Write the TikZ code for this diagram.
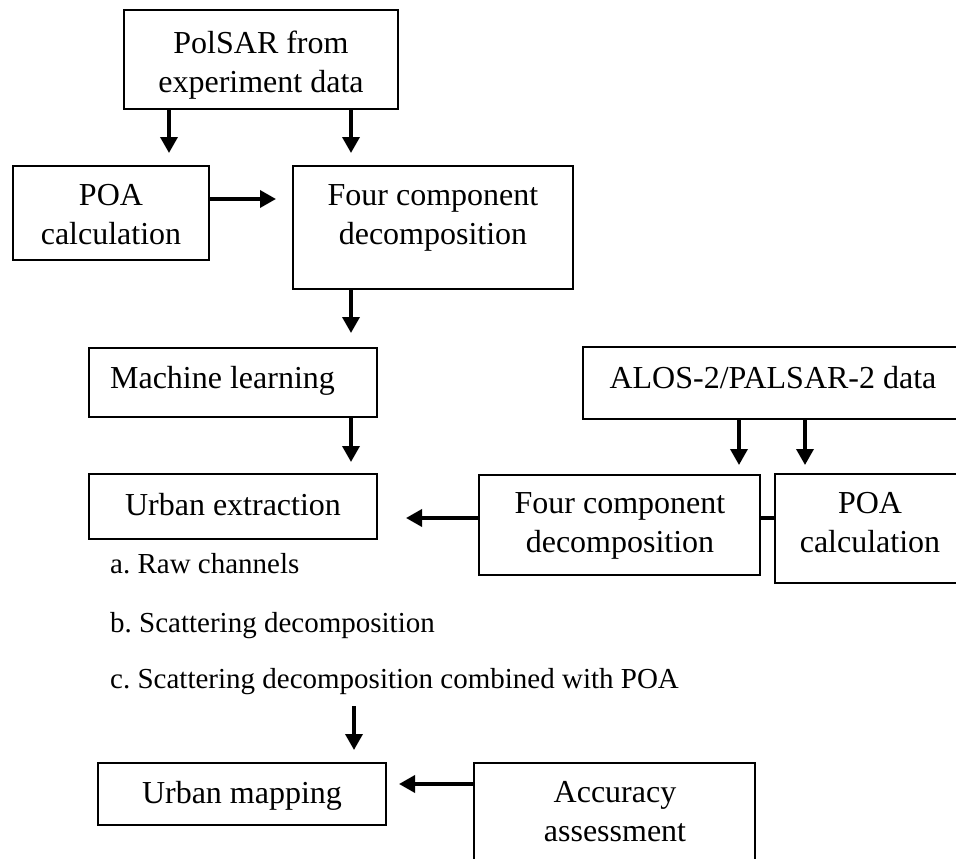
\documentclass[tikz,border=0pt]{standalone}
\usepackage{fontspec}
\setmainfont{Liberation Serif}
\usetikzlibrary{arrows.meta}
\begin{document}
\frenchspacing
\begin{tikzpicture}[x=1pt,y=-1pt,
  box/.style={draw, line width=2pt, inner sep=0pt},
  txt/.style={inner sep=0pt, font=\fontsize{32}{39}\selectfont, align=center},
  lst/.style={inner sep=0pt, font=\fontsize{29}{35}\selectfont, anchor=base west},
  arr/.style={line width=3.5pt, -{Triangle[length=16pt,width=17pt]}},
  link/.style={line width=3.5pt}]
\useasboundingbox (0,0) rectangle (956,859);
\fill[white] (0,0) rectangle (956,859);
\clip (0,0) rectangle (956,859);

% boxes
\node[box, minimum width=274pt, minimum height=99pt] (polsar) at (261,59.5) {};
\node[box, minimum width=196pt, minimum height=94pt] (poa1) at (111,213) {};
\node[box, minimum width=280pt, minimum height=123pt] (four1) at (433,227.5) {};
\node[box, minimum width=288pt, minimum height=69pt] (ml) at (233,382.5) {};
\node[box, minimum width=380pt, minimum height=72pt] (alos) at (773,383) {};
\node[box, minimum width=288pt, minimum height=65pt] (ue) at (233,506.5) {};
\node[box, minimum width=281pt, minimum height=100pt] (four2) at (619.5,525) {};
\node[box, minimum width=191pt, minimum height=109pt] (poa2) at (870.5,528.5) {};
\node[box, minimum width=288pt, minimum height=62pt] (um) at (242,794) {};
\node[box, minimum width=281pt, minimum height=137pt] (acc) at (614.5,831.5) {};

% texts
\node[txt, anchor=north] (polsart) at (261,31) {PolSAR from\\experiment data};
\node[txt, anchor=north] (poa1t) at (111,184) {POA\\calculation};
\node[txt, anchor=north] (four1t) at (433,184) {Four component\\decomposition};
\node[txt, anchor=base] (mlt) at (222.5,388) {Machine learning};
\node[txt, anchor=base] (alost) at (773,388) {ALOS-2/PALSAR-2 data};
\node[txt, anchor=base] (uet) at (233,515) {Urban extraction};
\node[txt, anchor=north] (four2t) at (620,492) {Four component\\decomposition};
\node[txt, anchor=north] (poa2t) at (870,492) {POA\\calculation};
\node[txt, anchor=base] (umt) at (242,803) {Urban mapping};
\node[txt, anchor=north] (acct) at (615,781) {Accuracy\\assessment};
\node[lst] (la) at (110,573) {a.\ Raw channels};
\node[lst] (lb) at (110,632) {b.\ Scattering decomposition};
\node[lst] (lc) at (110,688) {c.\ Scattering decomposition combined with POA};

% connectors
\coordinate (t1) at (169,153);
\coordinate (t2) at (351,153);
\coordinate (t3) at (276,199);
\coordinate (t4) at (351,333);
\coordinate (t5) at (351,462);
\coordinate (t6) at (739,465);
\coordinate (t7) at (805,465);
\coordinate (t8) at (406,518);
\coordinate (t9s) at (354,706);
\coordinate (t9) at (354,750);
\coordinate (t10) at (399,784);

\draw[arr] (polsar.south -| t1) -- (t1);
\draw[arr] (polsar.south -| t2) -- (t2);
\draw[arr] (poa1.east |- t3) -- (t3);
\draw[arr] (four1.south -| t4) -- (t4);
\draw[arr] (ml.south -| t5) -- (t5);
\draw[arr] (alos.south -| t6) -- (t6);
\draw[arr] (alos.south -| t7) -- (t7);
\draw[link] (poa2.west |- t8) -- (four2.east |- t8);
\draw[arr] (four2.west |- t8) -- (t8);
\draw[arr] (t9s) -- (t9);
\draw[arr] (acc.west |- t10) -- (t10);
\end{tikzpicture}
\end{document}
